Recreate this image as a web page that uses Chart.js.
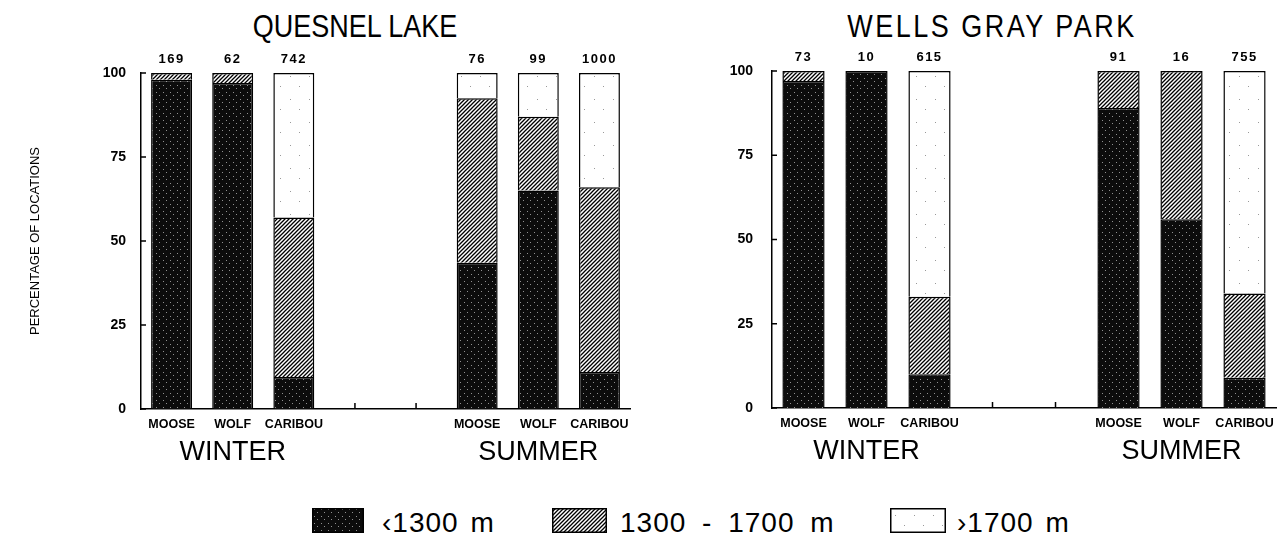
<!DOCTYPE html>
<html>
<head>
<meta charset="utf-8">
<script src="https://cdn.jsdelivr.net/npm/chart.js@4"></script>
<style>
  body { margin: 0; width: 1282px; height: 540px; background: #fff; position: relative; overflow: hidden;
         font-family: 'Liberation Sans', Arial, sans-serif; color: #000; }
  canvas.panel { position: absolute; top: 0; }
  #quesnel { left: 0; }
  #wells { left: 645px; }
  .title { position: absolute; top: 10px; width: 440px; text-align: center; font-size: 27px; line-height: 34px;
           transform: scaleY(1.15); white-space: nowrap; }
  .swatch { position: absolute; top: 508px; }
  .key { position: absolute; top: 508px; font-size: 28px; line-height: 30px; letter-spacing: 1px; word-spacing: 3px; white-space: nowrap; }
</style>
</head>
<body>
<div class="title" style="left:135px">QUESNEL LAKE</div>
<div class="title" style="left:772px; letter-spacing:2.5px">WELLS GRAY PARK</div>
<canvas id="quesnel" class="panel" width="645" height="470"></canvas>
<canvas id="wells" class="panel" width="637" height="470"></canvas>
<div id="legend"></div>
<script>
// gaps between the winter and summer groups are empty categories
const categories = ['MOOSE', 'WOLF', 'CARIBOU', '', '', 'MOOSE', 'WOLF', 'CARIBOU'];
const seasons = ['', 'WINTER', '', '', '', '', 'SUMMER', ''];
const bandLabels = ['\u20391300 m', '1300 - 1700 m', '\u203a1700 m'];

// percentage of locations per elevation band
const quesnelLow  = [98, 97, 9.5, null, null, 43.5, 65, 11];
const quesnelMid  = [2, 3, 47.5, null, null, 49, 22, 55];
const quesnelHigh = [0, 0, 43, null, null, 7.5, 13, 34];
const quesnelCounts = [169, 62, 742, null, null, 76, 99, 1000];

const wellsLow  = [97, 100, 10, null, null, 89, 56, 9];
const wellsMid  = [3, 0, 23, null, null, 11, 44, 25];
const wellsHigh = [0, 0, 67, null, null, 0, 0, 66];
const wellsCounts = [73, 10, 615, null, null, 91, 16, 755];

const FONT = "'Liberation Sans', Arial, sans-serif";
Chart.defaults.color = '#000';
Chart.defaults.font.family = FONT;

function makePattern(kind) {
  const c = document.createElement('canvas');
  const g = c.getContext('2d');
  if (kind === 'dark') {
    c.width = 7; c.height = 7;
    g.fillStyle = '#0c0c0c';
    g.fillRect(0, 0, 7, 7);
    g.fillStyle = 'rgba(255,255,255,0.55)';
    g.fillRect(2, 1, 1, 1);
    g.fillRect(5, 4, 1, 1);
  } else if (kind === 'hatch') {
    c.width = 4; c.height = 4;
    g.fillStyle = '#fff';
    g.fillRect(0, 0, 4, 4);
    g.strokeStyle = '#000';
    g.lineWidth = 1.3;
    g.beginPath();
    g.moveTo(-1, 5); g.lineTo(5, -1);
    g.moveTo(-1, 1); g.lineTo(1, -1);
    g.moveTo(3, 5); g.lineTo(5, 3);
    g.stroke();
  } else {
    c.width = 19; c.height = 23;
    g.fillStyle = '#fff';
    g.fillRect(0, 0, 19, 23);
    g.fillStyle = '#999';
    g.fillRect(5, 7, 1, 1);
    g.fillRect(14, 17, 1, 1);
  }
  return g.createPattern(c, 'repeat');
}
const fills = [makePattern('dark'), makePattern('hatch'), makePattern('white')];

// sample sizes above the bars
const countLabels = {
  id: 'countLabels',
  afterDatasetsDraw(chart, args, opts) {
    const meta = chart.getDatasetMeta(0);
    const ctx = chart.ctx;
    ctx.save();
    ctx.font = 'bold 13px ' + FONT;
    ctx.letterSpacing = '1.5px';
    ctx.fillStyle = '#000';
    ctx.textAlign = 'center';
    ctx.textBaseline = 'middle';
    opts.counts.forEach((n, i) => {
      if (n == null) return;
      ctx.fillText(String(n), meta.data[i].x, chart.chartArea.top - 14);
    });
    ctx.restore();
  }
};

// small tick marks pointing into the plot
const innerTicks = {
  id: 'innerTicks',
  afterDraw(chart) {
    const { ctx, chartArea, scales: { x, y } } = chart;
    ctx.save();
    ctx.strokeStyle = '#000';
    ctx.lineWidth = 1.5;
    ctx.beginPath();
    y.ticks.forEach((t, i) => {
      const py = y.getPixelForTick(i);
      ctx.moveTo(chartArea.left, py);
      ctx.lineTo(chartArea.left + 5, py);
    });
    categories.forEach((c, i) => {
      if (c !== '') return;
      const px = x.getPixelForTick(i);
      ctx.moveTo(px, chartArea.bottom);
      ctx.lineTo(px, chartArea.bottom - 6);
    });
    ctx.stroke();
    ctx.restore();
  }
};

function makePanel(id, low, mid, high, counts, cfg) {
  const series = [low, mid, high];
  new Chart(document.getElementById(id), {
    type: 'bar',
    data: {
      labels: categories,
      datasets: series.map((d, k) => ({
        label: bandLabels[k],
        data: d,
        backgroundColor: fills[k],
        borderColor: '#000',
        borderWidth: 1.5,
        barPercentage: 0.67,
        categoryPercentage: 1
      }))
    },
    options: {
      responsive: false,
      animation: false,
      layout: { padding: cfg.padding },
      plugins: {
        legend: { display: false },
        tooltip: { enabled: false },
        countLabels: { counts: counts }
      },
      scales: {
        x: {
          stacked: true,
          weight: 0,
          grid: { display: false, drawTicks: false },
          border: { display: true, color: '#000', width: 1.5 },
          ticks: { font: { size: 12.5, weight: 'bold' }, padding: 8, autoSkip: false, maxRotation: 0 },
          afterFit(s) { s.height = 24; }
        },
        x2: {
          type: 'category',
          position: 'bottom',
          labels: seasons,
          offset: true,
          weight: 1,
          grid: { display: false, drawTicks: false },
          border: { display: false },
          ticks: { font: { size: 27 }, padding: 3, autoSkip: false, maxRotation: 0 },
          afterFit(s) { s.height = 34; }
        },
        y: {
          stacked: true,
          min: 0,
          max: 100,
          grid: { display: false, drawTicks: false },
          border: { display: true, color: '#000', width: 1.5 },
          ticks: { stepSize: 25, font: { size: 14, weight: 'bold' }, padding: cfg.tickPad },
          title: cfg.yTitle
            ? { display: true, text: 'PERCENTAGE OF LOCATIONS', font: { size: 13 }, padding: { top: 28, bottom: 0 } }
            : { display: false },
          afterFit(s) { s.width = cfg.yWidth; }
        }
      }
    },
    plugins: [countLabels, innerTicks]
  });
}

makePanel('quesnel', quesnelLow, quesnelMid, quesnelHigh, quesnelCounts,
  { padding: { top: 73, right: 15, bottom: 3, left: 0 }, yWidth: 141, tickPad: 15, yTitle: true });
makePanel('wells', wellsLow, wellsMid, wellsHigh, wellsCounts,
  { padding: { top: 71, right: 5, bottom: 4, left: 0 }, yWidth: 127, tickPad: 19, yTitle: false });

// legend below both panels
const legend = document.getElementById('legend');
const swatchPos = [[312, 52], [552, 55], [890, 56]];
const keyPos = [382, 620, 957];
const keyWordGap = ['3px', '7px', '3px'];
bandLabels.forEach((text, k) => {
  const sw = document.createElement('canvas');
  sw.className = 'swatch';
  sw.width = swatchPos[k][1];
  sw.height = 25;
  sw.style.left = swatchPos[k][0] + 'px';
  const g = sw.getContext('2d');
  g.fillStyle = fills[k];
  g.fillRect(0, 0, sw.width, sw.height);
  g.strokeStyle = '#000';
  g.lineWidth = 1.5;
  g.strokeRect(0.75, 0.75, sw.width - 1.5, sw.height - 1.5);
  legend.appendChild(sw);

  const span = document.createElement('span');
  span.className = 'key';
  span.style.left = keyPos[k] + 'px';
  span.style.wordSpacing = keyWordGap[k];
  span.textContent = text;
  legend.appendChild(span);
});
</script>
</body>
</html>
